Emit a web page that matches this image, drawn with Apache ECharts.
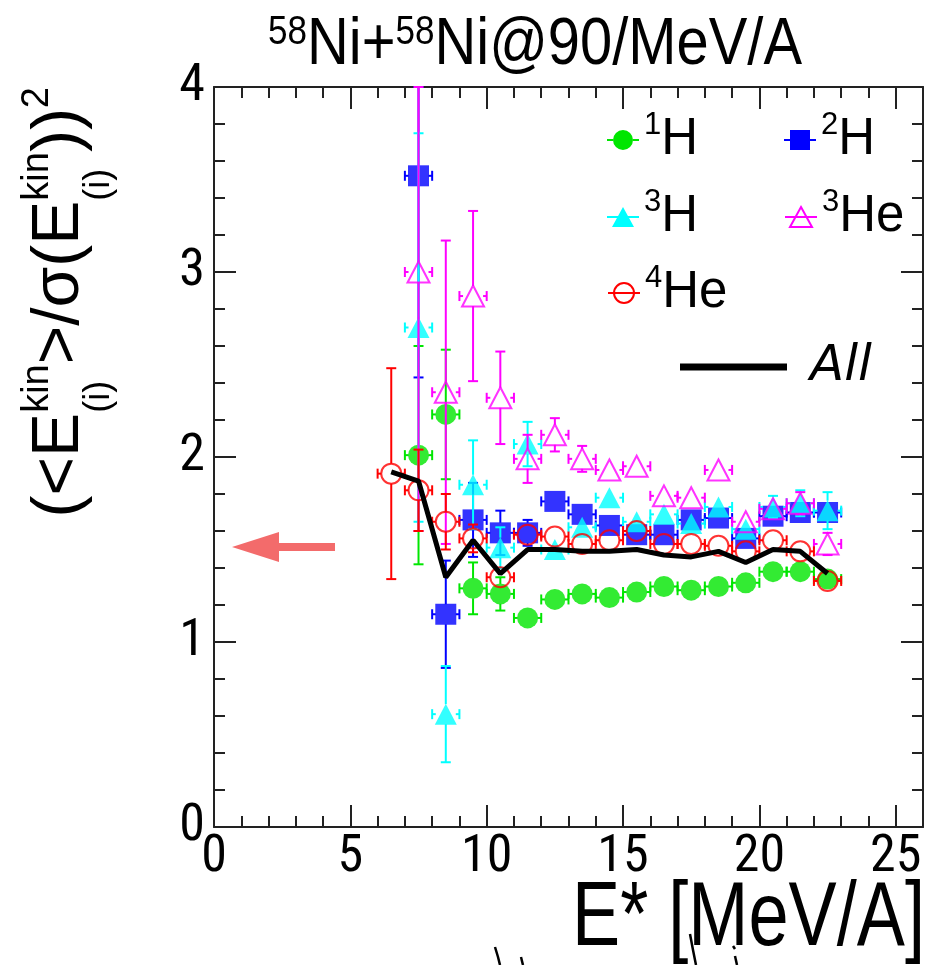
<!DOCTYPE html>
<html>
<head>
<meta charset="utf-8">
<script src="https://cdn.jsdelivr.net/npm/echarts@6/dist/echarts.min.js"></script>
<style>
  html, body { margin: 0; padding: 0; background: #fff; }
  #chart { width: 938px; height: 965px; }
</style>
</head>
<body>
<div id="chart"></div>
<script>
// Excitation-energy bins (MeV/A)
const binCenters = [6.5, 7.5, 8.5, 9.5, 10.5, 11.5, 12.5, 13.5, 14.5, 15.5, 16.5, 17.5, 18.5, 19.5, 20.5, 21.5, 22.5];
const binHalfWidth = 0.5;

// (<E_kin>/sigma(E_kin))^2 per species, with statistical errors (null = no entry)
const h1Values    = [null, 2.01, 2.23, 1.29, 1.26, 1.13, 1.23, 1.26, 1.24, 1.27, 1.30, 1.28, 1.30, 1.32, 1.38, 1.38, 1.34];
const h1Errors    = [null, 0.59, 0.35, 0.14, 0.09, 0.03, 0.02, 0.02, 0.02, 0.02, 0.02, 0.02, 0.02, 0.02, 0.02, 0.02, 0.02];
const h2Values    = [null, 3.52, 1.15, 1.66, 1.59, 1.59, 1.76, 1.69, 1.63, 1.58, 1.58, 1.66, 1.67, 1.56, 1.68, 1.70, 1.70];
const h2Errors    = [null, 1.09, 0.29, 0.20, 0.12, 0.07, 0.04, 0.03, 0.03, 0.03, 0.03, 0.03, 0.03, 0.03, 0.03, 0.03, 0.04];
const h3Values    = [null, 2.70, 0.61, 1.85, 1.51, 2.07, 1.50, 1.62, 1.78, 1.65, 1.69, 1.64, 1.73, 1.61, 1.73, 1.75, 1.71];
const h3Errors    = [null, 1.05, 0.26, 0.24, 0.11, 0.12, 0.05, 0.04, 0.04, 0.04, 0.04, 0.04, 0.05, 0.05, 0.06, 0.07, 0.10];
const he3Values   = [null, 3.00, 2.35, 2.87, 2.32, 1.99, 2.12, 1.99, 1.93, 1.95, 1.79, 1.78, 1.93, 1.65, 1.72, 1.75, 1.53];
const he3Errors   = [null, 1.40, 0.82, 0.46, 0.25, 0.13, 0.09, 0.07, 0.05, 0.05, 0.04, 0.04, 0.04, 0.05, 0.05, 0.06, 0.06];
const he4Values   = [1.91, 1.82, 1.65, 1.56, 1.35, 1.58, 1.57, 1.53, 1.55, 1.60, 1.53, 1.53, 1.52, 1.49, 1.55, 1.49, 1.33];
const he4Errors   = [0.57, 0.22, 0.15, 0.075, 0.05, 0.03, 0.02, 0.02, 0.02, 0.02, 0.02, 0.02, 0.02, 0.02, 0.02, 0.02, 0.02];
const allValues   = [1.92, 1.87, 1.35, 1.55, 1.37, 1.50, 1.50, 1.49, 1.49, 1.50, 1.47, 1.46, 1.49, 1.43, 1.50, 1.49, 1.37];

// Axis ranges and tick steps
const xRange = [0, 26];
const yRange = [0, 4];
const xMajorStep = 5, xMinorStep = 1, yMajorStep = 1;

const SANS = '"Liberation Sans", Arial, sans-serif';
const FRAME = '#222';

// Text measuring and narrow-face lookup
const measureCtx = document.createElement('canvas').getContext('2d');
function textWidth(t, size, family) { measureCtx.font = size + 'px ' + (family || SANS); return measureCtx.measureText(t).width; }
function fontAvailable(name) {
  const s = 'abcdefghijklmnopqrstuvwxyz0123456789MWA@';
  const a = textWidth(s, 40, 'monospace'), b = textWidth(s, 40, '"' + name + '", monospace');
  const c = textWidth(s, 40, 'serif'), d = textWidth(s, 40, '"' + name + '", serif');
  return a !== b || c !== d;
}
const narrowCandidates = ['Liberation Sans Narrow', 'DejaVu Sans Condensed', 'Noto Sans Condensed', 'Nimbus Sans Narrow', 'Arial Narrow', 'Roboto Condensed'];
const narrowFound = narrowCandidates.find(n => fontAvailable(n) &&
  textWidth('0123456789', 40, '"' + n + '"') < 0.9 * textWidth('0123456789', 40, SANS));
const NARROW = narrowFound ? '"' + narrowFound + '", ' + SANS : SANS;
const TICK_SIZE = narrowFound ? 52 : 49;

function toTriples(values, errors) {
  const out = [];
  binCenters.forEach((x, i) => { if (values[i] != null) out.push([x, values[i], errors[i]]); });
  return out;
}

// Species: name, colour, marker, open/filled
const species = [
  { name: '1H',  sup: '1', base: 'H',  color: '#00e600', symbol: 'circle',   size: 21,       open: false, values: h1Values,  errors: h1Errors },
  { name: '2H',  sup: '2', base: 'H',  color: '#0000ff', symbol: 'rect',     size: 21,       open: false, values: h2Values,  errors: h2Errors },
  { name: '3H',  sup: '3', base: 'H',  color: '#00ffff', symbol: 'triangle', size: [22, 21], open: false, values: h3Values,  errors: h3Errors },
  { name: '3He', sup: '3', base: 'He', color: '#ff00ff', symbol: 'triangle', size: [22, 21], open: true,  values: he3Values, errors: he3Errors },
  { name: '4He', sup: '4', base: 'He', color: '#ff0000', symbol: 'circle',   size: 20,       open: true,  values: he4Values, errors: he4Errors }
];

// Error bars with end caps; bars stop at the marker edge
function errorBarRenderer(color) {
  return function (params, api) {
    const x = api.value(0), y = api.value(1), e = api.value(2);
    const c = api.coord([x, y]);
    const pt = api.coord([x, Math.min(y + e, yRange[1])]);
    const pb = api.coord([x, Math.max(y - e, yRange[0])]);
    const pl = api.coord([x - binHalfWidth, y]);
    const pr = api.coord([x + binHalfWidth, y]);
    const r = 10, cap = 5;
    const style = { stroke: color, lineWidth: 2 };
    const children = [];
    const seg = (x1, y1, x2, y2) => children.push({ type: 'line', shape: { x1, y1, x2, y2 }, style });
    if (c[1] - pt[1] > r) { seg(c[0], c[1] - r, c[0], pt[1]); seg(c[0] - cap, pt[1], c[0] + cap, pt[1]); }
    if (pb[1] - c[1] > r) { seg(c[0], c[1] + r, c[0], pb[1]); seg(c[0] - cap, pb[1], c[0] + cap, pb[1]); }
    seg(pl[0], c[1], c[0] - r, c[1]); seg(pl[0], c[1] - cap, pl[0], c[1] + cap);
    seg(c[0] + r, c[1], pr[0], c[1]); seg(pr[0], c[1] - cap, pr[0], c[1] + cap);
    return { type: 'group', children };
  };
}

const series = [];
let z = 2;
species.forEach(sp => {
  const data = toTriples(sp.values, sp.errors);
  series.push({
    type: 'custom', name: sp.name, xAxisIndex: 0, yAxisIndex: 0, z: z++,
    silent: true, animation: false,
    renderItem: errorBarRenderer(sp.color),
    encode: { x: 0, y: 1 },
    data
  });
  series.push({
    type: 'scatter', name: sp.name, xAxisIndex: 0, yAxisIndex: 0, z: z++,
    silent: true, animation: false,
    symbol: sp.symbol, symbolSize: sp.size,
    itemStyle: sp.open
      ? { color: 'rgba(0,0,0,0)', borderColor: sp.color, borderWidth: 2 }
      : { color: sp.color },
    data: data.map(d => [d[0], d[1]])
  });
});
series.push({
  type: 'line', name: 'All', xAxisIndex: 0, yAxisIndex: 0, z: z++,
  silent: true, animation: false, symbol: 'none',
  lineStyle: { color: '#000', width: 5 },
  data: binCenters.map((x, i) => [x, allValues[i]])
});

// Legend icons: marker with the horizontal error stroke through it
const ICONS = {
  circleFilled:   'path://M0,9H6V11H0Z M26,9H32V11H26Z M6,10A10,10,0,1,1,26,10A10,10,0,1,1,6,10Z',
  rectFilled:     'path://M0,9H6V11H0Z M26,9H32V11H26Z M6,0H26V20H6Z',
  triangleFilled: 'path://M0,9H11V11H0Z M21,9H32V11H21Z M16,0L27,20H5Z',
  triangleOpen:   'path://M0,10H32 M16,0L27,20H5Z',
  circleOpen:     'path://M0,10H32 M6,10A10,10,0,1,1,26,10A10,10,0,1,1,6,10Z'
};
const legendSlots = [
  { name: '1H',  icon: ICONS.circleFilled,   left: 607, top: 110 },
  { name: '2H',  icon: ICONS.rectFilled,     left: 784, top: 110 },
  { name: '3H',  icon: ICONS.triangleFilled, left: 607, top: 187 },
  { name: '3He', icon: ICONS.triangleOpen,   left: 784, top: 187 },
  { name: '4He', icon: ICONS.circleOpen,     left: 607, top: 263 }
];
const legendRich = {
  s: { fontSize: 31, lineHeight: 18, verticalAlign: 'top', fontFamily: SANS, color: '#000' },
  b: { fontSize: 51, lineHeight: 60, fontFamily: SANS, color: '#000' }
};
const legends = legendSlots.map(slot => {
  const sp = species.find(s => s.name === slot.name);
  return {
    left: slot.left, top: slot.top, padding: 0, selectedMode: false,
    itemWidth: 32, itemHeight: 20,
    data: [{
      name: sp.name, icon: slot.icon,
      itemStyle: sp.open
        ? { color: 'rgba(0,0,0,0)', borderColor: sp.color, borderWidth: 2 }
        : { color: sp.color, borderWidth: 0 }
    }],
    formatter: () => '{s|' + sp.sup + '}{b|' + sp.base + '}',
    textStyle: { rich: legendRich }
  };
});
legends.push({
  left: 680, top: 342, padding: 0, selectedMode: false,
  itemWidth: 107, itemHeight: 7,
  data: [{ name: 'All', icon: 'rect', itemStyle: { color: '#000' } }],
  formatter: '{a|All}',
  textStyle: { rich: { a: { fontSize: 50, lineHeight: 50, fontFamily: '"DejaVu Sans", sans-serif', fontWeight: 200, fontStyle: 'italic', color: '#000', padding: [0, 0, 0, 18] } } }
});

// Rotated y-axis title, built piece by piece so the stacked super/subscripts line up
const BIG = 66, SUP = 38, SUB = 36;
const BIG_C = 60, SUP_C = 38, SUB_C = 99;
const titlePieces = [
  { text: '(<E', size: BIG, c: BIG_C },
  { stack: [{ text: 'kin', size: SUP, c: SUP_C }, { text: '(i)', size: SUB, c: SUB_C }] },
  { text: '>/σ(E', size: BIG, c: BIG_C },
  { stack: [{ text: 'kin', size: SUP, c: SUP_C }, { text: '(i)', size: SUB, c: SUB_C }] },
  { text: '))', size: BIG, c: BIG_C },
  { text: '2', size: SUP, c: SUP_C }
];
const yTitleChildren = [];
let cursor = 0;
function addPiece(p, at) {
  yTitleChildren.push({
    type: 'text', x: at, y: p.c,
    style: { text: p.text, fontSize: p.size, fontFamily: SANS, fill: '#000', align: 'left', verticalAlign: 'middle' }
  });
  return textWidth(p.text, p.size);
}
titlePieces.forEach(p => {
  if (p.stack) {
    let w = 0;
    p.stack.forEach(q => { w = Math.max(w, addPiece(q, cursor)); });
    cursor += w;
  } else {
    cursor += addPiece(p, cursor);
  }
});
const yTitleEnd = 87;

// Main title with superscript mass numbers, fitted to its span
const TITLE_BIG = 66, TITLE_SUP = 40;
const titleParts = [['58', TITLE_SUP], ['Ni+', TITLE_BIG], ['58', TITLE_SUP], ['Ni@90/MeV/A', TITLE_BIG]];
const titleWidth = titleParts.reduce((w, p) => w + textWidth(p[0], p[1], SANS), 0);
const titleScale = 534 / titleWidth;

// x-axis title, right-aligned under the axis end
const XNAME = 'E* [MeV/A]', XNAME_SIZE = 90;
const xNameScale = 353 / textWidth(XNAME, XNAME_SIZE, SANS);

const option = {
  backgroundColor: '#fff',
  animation: false,
  legend: legends,
  grid: [
    { left: 214, right: 15, top: 87, bottom: 138, containLabel: false, outerBoundsMode: 'none' },
    { left: 214, right: 15, top: 87, bottom: 138, containLabel: false, outerBoundsMode: 'none' }
  ],
  xAxis: [
    {
      gridIndex: 0, type: 'value', position: 'bottom', min: xRange[0], max: xRange[1], interval: xMajorStep,
      axisLine: { show: true, onZero: false, lineStyle: { color: FRAME, width: 2 } },
      axisTick: { show: true, inside: true, length: 22, lineStyle: { color: FRAME, width: 2 } },
      axisLabel: {
        fontSize: TICK_SIZE, fontFamily: NARROW, color: '#000', margin: 6, lineHeight: 50,
        formatter: v => (v % xMajorStep === 0 ? String(v) : '')
      },
      splitLine: { show: false }
    },
    {
      gridIndex: 1, type: 'value', position: 'bottom', min: xRange[0], max: xRange[1], interval: xMinorStep,
      axisLine: { show: false, onZero: false },
      axisTick: { show: true, inside: true, length: 11, lineStyle: { color: FRAME, width: 2 } },
      axisLabel: { show: false }, splitLine: { show: false }
    },
    {
      gridIndex: 0, type: 'value', position: 'top', min: xRange[0], max: xRange[1], interval: xMajorStep,
      axisLine: { show: true, onZero: false, lineStyle: { color: FRAME, width: 2 } },
      axisTick: { show: true, inside: true, length: 22, lineStyle: { color: FRAME, width: 2 } },
      axisLabel: { show: false }, splitLine: { show: false }
    },
    {
      gridIndex: 1, type: 'value', position: 'top', min: xRange[0], max: xRange[1], interval: xMinorStep,
      axisLine: { show: false, onZero: false },
      axisTick: { show: true, inside: true, length: 11, lineStyle: { color: FRAME, width: 2 } },
      axisLabel: { show: false }, splitLine: { show: false }
    }
  ],
  yAxis: [
    {
      gridIndex: 0, type: 'value', position: 'left', min: yRange[0], max: yRange[1], interval: yMajorStep,
      axisLine: { show: true, onZero: false, lineStyle: { color: FRAME, width: 2 } },
      axisTick: { show: true, inside: true, length: 22, lineStyle: { color: FRAME, width: 2 } },
      minorTick: { show: true, splitNumber: 5, length: 11, lineStyle: { color: FRAME, width: 2 } },
      axisLabel: { fontSize: TICK_SIZE, fontFamily: NARROW, color: '#000', margin: 9 },
      splitLine: { show: false }, minorSplitLine: { show: false }
    },
    {
      gridIndex: 0, type: 'value', position: 'right', min: yRange[0], max: yRange[1], interval: yMajorStep,
      axisLine: { show: true, onZero: false, lineStyle: { color: FRAME, width: 2 } },
      axisTick: { show: true, inside: true, length: 22, lineStyle: { color: FRAME, width: 2 } },
      minorTick: { show: true, splitNumber: 5, length: 11, lineStyle: { color: FRAME, width: 2 } },
      axisLabel: { show: false },
      splitLine: { show: false }, minorSplitLine: { show: false }
    },
    {
      gridIndex: 1, type: 'value', min: yRange[0], max: yRange[1], show: false
    }
  ],
  graphic: [
    // plot title
    {
      type: 'group', x: 268, y: 69, scaleX: titleScale, scaleY: 1,
      children: [{
        type: 'text', x: 0, y: -0.35 * TITLE_BIG,
        style: {
          text: '{s|58}{b|Ni+}{s|58}{b|Ni@90/MeV/A}', align: 'left', verticalAlign: 'middle',
          rich: {
            s: { fontSize: TITLE_SUP, lineHeight: 26, verticalAlign: 'top', fontFamily: SANS, fill: '#000' },
            b: { fontSize: TITLE_BIG, lineHeight: TITLE_BIG, fontFamily: SANS, fill: '#000' }
          }
        }
      }]
    },
    // x-axis title
    {
      type: 'group', x: 925, y: 952, scaleX: xNameScale, scaleY: 1,
      children: [{
        type: 'text', x: 0, y: -0.35 * XNAME_SIZE,
        style: { text: XNAME, fontSize: XNAME_SIZE, fontFamily: SANS, fill: '#000', align: 'right', verticalAlign: 'middle' }
      }]
    },
    // y-axis title
    { type: 'group', x: 0, y: yTitleEnd + cursor, rotation: Math.PI / 2, children: yTitleChildren },
    // arrow marking the reference level
    {
      type: 'polygon', silent: true,
      shape: { points: [[232, 547], [279, 532], [279, 543], [335, 543], [335, 551], [279, 551], [279, 562]] },
      style: { fill: '#f36b6b' }
    },
    // pen strokes at the lower edge
    { type: 'polyline', shape: { points: [[495, 947], [498, 957], [500, 965]] }, style: { stroke: '#000', lineWidth: 2.5, fill: null } },
    { type: 'polyline', shape: { points: [[521, 957], [523, 965]] }, style: { stroke: '#000', lineWidth: 2.5, fill: null } },
    { type: 'polyline', shape: { points: [[690, 934], [693, 950], [696, 965]] }, style: { stroke: '#000', lineWidth: 2.5, fill: null } },
    { type: 'polyline', shape: { points: [[733, 946], [735, 949]] }, style: { stroke: '#000', lineWidth: 2.5, fill: null } },
    { type: 'polyline', shape: { points: [[735, 956], [737, 965]] }, style: { stroke: '#000', lineWidth: 2.5, fill: null } }
  ],
  series
};

const chart = echarts.init(document.getElementById('chart'), null, { renderer: 'canvas' });
chart.setOption(option);
</script>
</body>
</html>
